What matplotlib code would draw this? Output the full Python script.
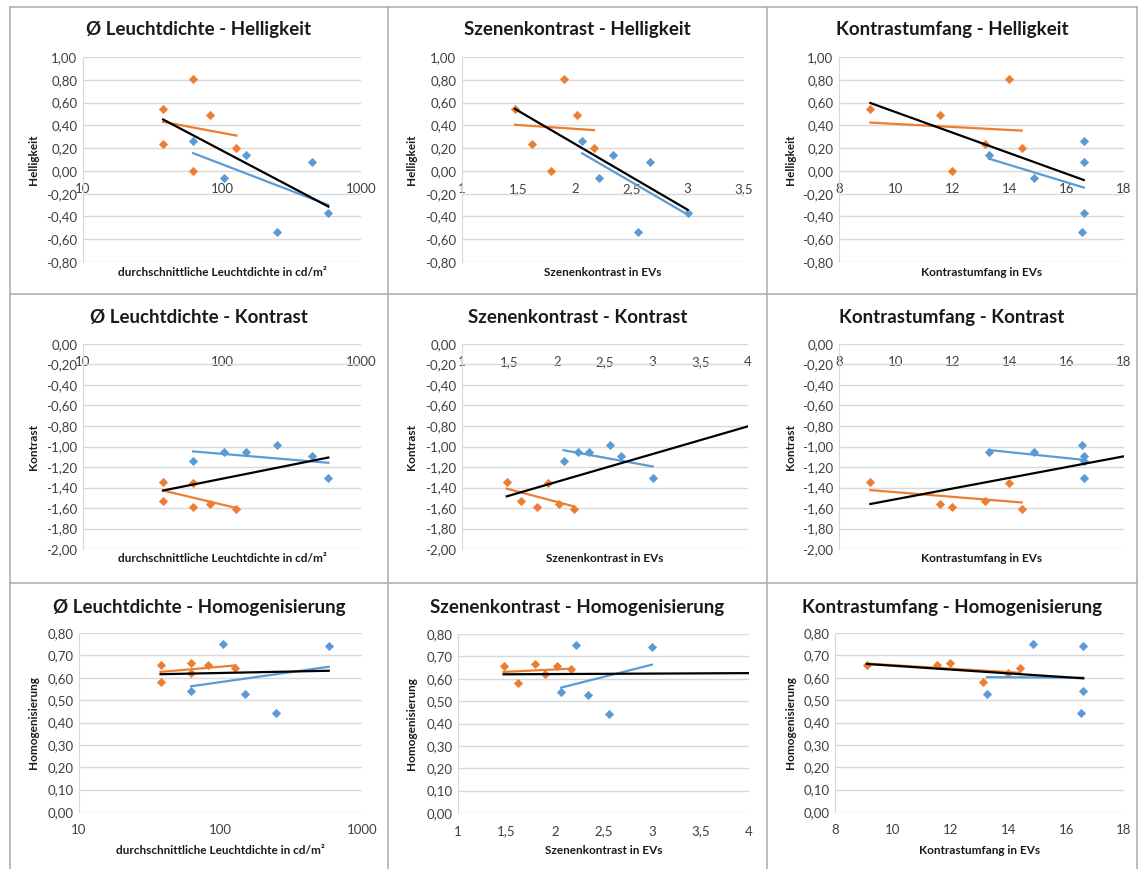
import numpy as np
import matplotlib.pyplot as plt
from matplotlib.lines import Line2D
from matplotlib.ticker import FuncFormatter, FixedLocator

plt.rcParams['font.family'] = ['Lato', 'DejaVu Sans']

# orange group (6 scenes)
or_lum = [37.7, 37.7, 62, 62, 81.7, 127]
or_sk = [1.47, 1.62, 1.90, 1.79, 2.02, 2.17]
or_ku = [9.1, 13.11, 13.97, 11.97, 11.54, 14.41]
or_hell = [0.54, 0.24, 0.81, 0.00, 0.495, 0.20]
or_kon = [-1.35, -1.535, -1.356, -1.587, -1.558, -1.61]
or_hom = [0.658, 0.583, 0.622, 0.667, 0.655, 0.643]

# blue group (6 scenes, one without Homogenisierung)
bl_lum = [62, 104, 150, 247, 441, 582]
bl_sk = [2.065, 2.213, 2.337, 2.556, 2.671, 3.0]
bl_ku = [16.59, 14.85, 13.26, 16.52, 16.59, 16.59]
bl_hell = [0.26, -0.066, 0.143, -0.533, 0.081, -0.371]
bl_kon = [-1.145, -1.05, -1.053, -0.989, -1.093, -1.304]
bl_hom = [0.540, 0.749, 0.529, 0.444, np.nan, 0.743]

x_names = ['Ø Leuchtdichte', 'Szenenkontrast', 'Kontrastumfang']
x_labels = ['durchschnittliche Leuchtdichte in cd/m²', 'Szenenkontrast in EVs', 'Kontrastumfang in EVs']
y_names = ['Helligkeit', 'Kontrast', 'Homogenisierung']

orange = '#ED7D31'
blue = '#5B9BD5'
grid = '#D9D9D9'
W, H = 1143, 869

fig = plt.figure(figsize=(W / 100, H / 100), dpi=100)


def fx(p):
    return p / W


def fy(p):
    return 1 - p / H


def fmt_y(v, pos):
    return f'{v:.2f}'.replace('.', ',').replace('-0,00', '0,00')


def fmt_x(v, pos):
    if abs(v - round(v)) < 1e-9:
        return str(int(round(v)))
    return f'{v:g}'.replace('.', ',')


# plot-area boxes in pixels: left, right, top, bottom
boxes = {
    (0, 0): (83, 361, 57, 262), (0, 1): (462, 744, 57, 262), (0, 2): (839, 1124, 57, 262),
    (1, 0): (83, 361, 344, 549), (1, 1): (462, 748, 344, 549), (1, 2): (839, 1124, 344, 549),
    (2, 0): (79, 362, 633, 812), (2, 1): (458, 749, 634, 813), (2, 2): (835, 1124, 633, 812),
}
cell_x = [(10, 388), (388, 767), (767, 1137)]
title_y = [29, 317, 607]
ylab_x = [33, 412, 790]

xs_or = [or_lum, or_sk, or_ku]
xs_bl = [bl_lum, bl_sk, bl_ku]
ys_or = [or_hell, or_kon, or_hom]
ys_bl = [bl_hell, bl_kon, bl_hom]
ylims = [(-0.8, 1.0, 0.2), (-2.0, 0.0, 0.2), (0.0, 0.8, 0.1)]

# end of the black trend line where it runs on to the axis end
black_end = {(1, 1): 4.0, (2, 1): 4.0, (1, 2): 18.0}


def fit_line(x, y, logx, x0, x1):
    x = np.asarray(x, float)
    y = np.asarray(y, float)
    ok = ~np.isnan(y)
    t = np.log(x[ok]) if logx else x[ok]
    a, b = np.polyfit(t, y[ok], 1)
    xx = np.geomspace(x0, x1, 50) if logx else np.linspace(x0, x1, 50)
    tt = np.log(xx) if logx else xx
    return xx, a * tt + b


for r in range(3):
    for c in range(3):
        l, rr, t, b = boxes[(r, c)]
        ax = fig.add_axes([fx(l), fy(b), fx(rr - l), (b - t) / H])
        logx = c == 0
        xo, xb = np.array(xs_or[c]), np.array(xs_bl[c])
        yo, yb = np.array(ys_or[r]), np.array(ys_bl[r])

        if logx:
            ax.set_xscale('log')
            ax.set_xlim(10, 1000)
            ax.xaxis.set_major_locator(FixedLocator([10, 100, 1000]))
            ax.xaxis.set_minor_locator(FixedLocator([]))
        elif c == 1:
            xmax = 3.5 if r == 0 else 4.0
            ax.set_xlim(1, xmax)
            ax.set_xticks(np.arange(1, xmax + 0.01, 0.5))
        else:
            ax.set_xlim(8, 18)
            ax.set_xticks(np.arange(8, 18.1, 2))
        ax.xaxis.set_major_formatter(FuncFormatter(fmt_x))

        y0, y1, st = ylims[r]
        ax.set_ylim(y0, y1)
        ax.set_yticks(np.arange(y0, y1 + st / 2, st))
        ax.yaxis.set_major_formatter(FuncFormatter(fmt_y))
        ax.grid(axis='y', color=grid, lw=1)
        ax.set_axisbelow(True)

        for s in ['top', 'right']:
            ax.spines[s].set_visible(False)
        ax.spines['left'].set_color(grid)
        ax.spines['bottom'].set_visible(False)
        if r < 2:
            ax.spines['bottom'].set_position(('data', 0))
        ax.tick_params(length=0, labelsize=9.5, colors='#404040', pad=4)
        ax.tick_params(axis='x', pad=9)

        ax.scatter(xo, yo, marker='D', s=22, color=orange, zorder=3, lw=0)
        ax.scatter(xb, yb, marker='D', s=22, color=blue, zorder=3, lw=0)

        xx, yy = fit_line(xo, yo, logx, xo.min(), xo.max())
        ax.plot(xx, yy, color=orange, lw=1.6, zorder=4)
        okb = ~np.isnan(yb)
        xx, yy = fit_line(xb, yb, logx, xb[okb].min(), xb[okb].max())
        ax.plot(xx, yy, color=blue, lw=1.6, zorder=4)
        xall = np.concatenate([xo, xb])
        yall = np.concatenate([yo, yb])
        okall = ~np.isnan(yall)
        xend = black_end.get((r, c), xall[okall].max())
        xx, yy = fit_line(xall, yall, logx, xall[okall].min(), xend)
        ax.plot(xx, yy, color='black', lw=1.6, zorder=4)

        cx = (cell_x[c][0] + cell_x[c][1]) / 2
        fig.text(fx(cx), fy(title_y[r]), f'{x_names[c]} - {y_names[r]}',
                 ha='center', va='center', fontsize=13.5, fontweight='bold', color='#1a1a1a')
        fig.text(fx(ylab_x[c]), fy((t + b) / 2), y_names[r], rotation=90,
                 ha='center', va='center', fontsize=8.5, fontweight='bold', color='#1a1a1a')
        xl_y = [273, 559, 850][r]
        fig.text(fx((l + rr) / 2), fy(xl_y), x_labels[c],
                 ha='center', va='center', fontsize=8.5, fontweight='bold', color='#1a1a1a')

# cell borders
border = '#B0B0B0'
for xb_ in [10, 388, 767, 1137]:
    fig.add_artist(Line2D([fx(xb_)] * 2, [fy(7), fy(869)], color=border, lw=1.2))
for yb_ in [7, 294, 583]:
    fig.add_artist(Line2D([fx(10), fx(1137)], [fy(yb_)] * 2, color=border, lw=1.2))

fig.savefig('out.png', dpi=100)
